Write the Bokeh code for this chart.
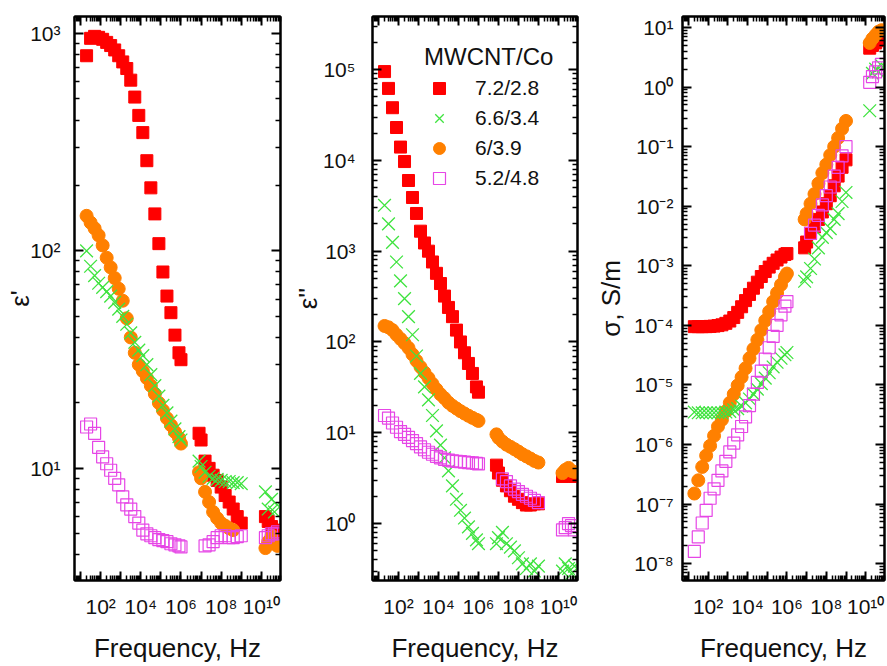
from bokeh.plotting import figure
from bokeh.layouts import row
from bokeh.models import FixedTicker, CustomJSTickFormatter, LogAxis, Legend, LegendItem
from bokeh.embed import file_html
from bokeh.resources import INLINE

nan = float("nan")

# ---------------- data ----------------
freq_low = [20, 31.6, 50.1, 79.4, 126, 200, 316, 501, 794, 1260, 2000, 3160, 5010, 7940,
            12600, 20000, 31600, 50100, 79400, 1.26e5, 2e5, 3.16e5, 5.01e5, 7.94e5, 1e6]
freq_mid = [7.94e6, 1e7, 1.58e7, 2.51e7, 3.98e7, 6.31e7, 1e8, 1.58e8, 2.51e8, 3.98e8, 6.31e8, 1e9]
freq_high = [1.6e10, 2.2e10, 3.2e10, 4.5e10, 6.3e10]
freq = freq_low + freq_mid + freq_high

legend_title = "MWCNT/Co"
series_labels = ["7.2/2.8", "6.6/3.4", "6/3.9", "5.2/4.8"]

# panel 1: eps'
eps_re_72 = [790, 950, 970, 960, 940, 910, 880, 840, 790, 740, 690, 610, 510, 420, 350, 260, 195, 148, 108, 80, 62, 52, 41, 34, 31.6,
             14.5, 13.5, 10.8, 10.0, 9.3, 8.8, 8.2, 7.5, 7.0, 6.5, 6.0, 5.6,
             6.0, 5.7, 5.4, 5.2, 5.0]
eps_re_66 = [100, 85, 77, 71, 68, 65, 62, 58, 54, 50, 46, 42, 38, 35, 33, 30, 27, 24, 21.5, 19.5, 18, 16.5, 15.2, 14, 13.5,
             10.8, 10.2, 9.6, 9.2, 9.0, 8.9, 8.8, 8.7, 8.7, 8.6, 8.6, 8.5,
             7.8, 6.5, 7.2, 6.3, 6.8]
eps_re_60 = [145, 135, 127, 118, 106, 93, 84, 75, 67, 59, 49, 40, 34, 30, 28, 26, 24, 22, 20, 18.5, 17, 15.8, 14.7, 13.8, 13,
             9.6, 9.0, 7.8, 7.0, 6.3, 5.9, 5.6, 5.45, 5.3, 5.2, nan, nan,
             4.3, 4.6, 4.9, 4.5, 4.4]
eps_re_52 = [15.5, 16, 14.5, 12.5, 11.3, 10.5, 9.8, 9.0, 8.4, 7.4, 6.8, 6.5, 6.0, 5.6, 5.2, 5.0, 4.9, 4.8, 4.7, 4.65, 4.6, 4.5, 4.45, 4.4, 4.35,
             nan, nan, 4.4, 4.45, 4.6, 4.8, 4.9, 4.9, 4.8, 4.8, 4.85, 4.9,
             4.8, 4.9, 5.0, 5.0, 5.1]

# panel 2: eps''
eps_im_72 = [9.5e4, 6.2e4, 3.8e4, 2.3e4, 1.4e4, 9.7e3, 6.0e3, 3.9e3, 2.6e3, 1.66e3, 1.23e3, 1.0e3, 760, 570, 440, 320, 240, 190, 135, 100, 76, 58, 45, 32, 28,
             4.4, 3.6, 3.0, 2.6, 2.3, 2.0, 1.85, 1.7, 1.6, 1.6, 1.65, 1.65,
             3.3, 3.5, 3.6, 3.4, 3.3]
eps_im_66 = [3.2e3, 2.0e3, 1.25e3, 760, 470, 300, 190, 120, 70, 45, 32, 23, 15.5, 10.5, 7.3, 5.3, 3.8, 2.6, 1.85, 1.4, 1.15, 0.92, 0.78, 0.66, 0.6,
             0.6, 0.7, 0.8, 0.6, 0.55, 0.5, 0.42, 0.36, 0.32, 0.36, 0.3, 0.34,
             0.3, 0.36, 0.32, 0.28, 0.34]
eps_im_60 = [150, 145, 135, 120, 108, 97, 86, 73, 62, 53, 46, 40, 34.5, 30, 26.5, 24, 21.5, 19.8, 18.5, 17.3, 16.3, 15.4, 14.6, 13.9, 13.5,
             9.6, 8.8, 8.0, 7.4, 7.0, 6.6, 6.2, 5.8, 5.5, 5.2, 4.9, 4.7,
             3.6, 3.9, 4.1, 3.8, 3.7]
eps_im_52 = [15.5, 14.5, 12.8, 11.5, 10.3, 9.6, 8.9, 8.2, 7.6, 7.0, 6.5, 6.1, 5.8, 5.5, 5.3, 5.1, 5.0, 4.9, 4.85, 4.8, 4.75, 4.7, 4.65, 4.6, 4.55,
             nan, nan, 3.1, 2.9, 2.6, 2.4, 2.25, 2.1, 2.0, 1.9, 1.8, 1.7,
             0.85, 0.9, 1.0, 0.95, 0.85]

# panel 3: sigma, S/m
sigma_72 = [9.5e-5, 9.5e-5, 9.5e-5, 9.5e-5, 9.6e-5, 9.7e-5, 9.9e-5, 1.02e-4, 1.08e-4, 1.18e-4, 1.35e-4, 1.65e-4, 2.05e-4, 2.6e-4, 3.3e-4,
            4.2e-4, 5.3e-4, 6.6e-4, 8.0e-4, 9.5e-4, 1.1e-3, 1.25e-3, 1.4e-3, 1.55e-3, 1.6e-3,
            2.0e-3, 2.5e-3, 3.5e-3, 4.5e-3, 6e-3, 8e-3, 1.1e-2, 1.5e-2, 2.2e-2, 3.2e-2, 4.5e-2, 6e-2,
            4.5, 5.0, 5.5, 6.0, 6.5]
sigma_66 = [3.5e-6, 3.4e-6, 3.4e-6, 3.4e-6, 3.4e-6, 3.4e-6, 3.4e-6, 3.4e-6, 3.5e-6, 3.6e-6, 3.8e-6, 4.0e-6, 4.4e-6, 5.0e-6, 5.8e-6,
            7.0e-6, 8.5e-6, 1.05e-5, 1.3e-5, 1.6e-5, 2.0e-5, 2.4e-5, 2.8e-5, 3.2e-5, 3.5e-5,
            5.5e-4, 6.5e-4, 9e-4, 1.3e-3, 2e-3, 3e-3, 3.6e-3, 4.2e-3, 6e-3, 7.5e-3, 1.2e-2, 1.7e-2,
            0.4, 1.7, 2.0, 1.8, 2.3]
sigma_60 = [1.5e-7, 2.5e-7, 4.2e-7, 6.5e-7, 9.5e-7, 1.4e-6, 2.0e-6, 2.6e-6, 3.6e-6, 5.0e-6, 7.0e-6, 9.8e-6, 1.35e-5, 1.9e-5, 2.8e-5,
            4.0e-5, 5.7e-5, 8.3e-5, 1.2e-4, 1.7e-4, 2.5e-4, 3.5e-4, 4.8e-4, 6.5e-4, 7.4e-4,
            6e-3, 7.5e-3, 1.1e-2, 1.6e-2, 2.4e-2, 3.6e-2, 5e-2, 7.2e-2, 0.1, 0.14, 0.2, 0.27,
            5.5, 6.5, 7.5, 8.5, 9.0]
sigma_52 = [1.6e-8, 2.8e-8, 4.8e-8, 7.8e-8, 1.25e-7, 1.8e-7, 2.5e-7, 3.6e-7, 5.2e-7, 7.5e-7, 1.05e-6, 1.45e-6, 2.0e-6, 2.9e-6, 4.5e-6,
            7.0e-6, 1.1e-5, 1.7e-5, 2.7e-5, 4.2e-5, 6.5e-5, 1.0e-4, 1.5e-4, 2.1e-4, 2.5e-4,
            nan, nan, 3.5e-3, 4.8e-3, 7e-3, 1.05e-2, 1.5e-2, 2.1e-2, 3.2e-2, 4.5e-2, 7e-2, 0.1,
            1.2, 1.5, 1.8, 2.1, 2.4]

# ---------------- styling ----------------
FONT = "Liberation Sans"
C_RED = "#ff0000"
C_GREEN = "#3fe33f"
C_ORANGE = "#ff8000"
C_MAG = "#e646e6"

SUP_JS = """
const m = {"0":"\u2070","1":"\u00b9","2":"\u00b2","3":"\u00b3","4":"\u2074","5":"\u2075",
           "6":"\u2076","7":"\u2077","8":"\u2078","9":"\u2079","-":"\u207b"};
const e = Math.round(Math.log10(tick));
if (skip > 0 && Math.abs(e) % 2 === 1) { return ""; }
return "10" + String(e).split("").map(c => m[c]).join("");
"""

TOP_BORDER = 16
BOTTOM_BORDER = 86


def decade_ticker(lo, hi):
    majors = [10.0 ** k for k in range(lo, hi + 1)]
    minors = [m * 10.0 ** k for k in range(lo - 1, hi + 1) for m in range(2, 10)]
    return FixedTicker(ticks=majors, minor_ticks=minors)


def style_axis(ax, labelled):
    ax.axis_line_width = 2
    ax.axis_line_color = "black"
    ax.major_tick_in = 9
    ax.major_tick_out = 0
    ax.minor_tick_in = 5
    ax.minor_tick_out = 0
    ax.major_tick_line_width = 2
    ax.minor_tick_line_width = 1.5
    ax.major_label_text_font = FONT
    ax.major_label_text_font_size = "21px"
    ax.major_label_text_color = "#111111"
    if not labelled:
        ax.major_label_text_font_size = "0px"
        ax.major_label_standoff = 0
        ax.axis_label_standoff = 0


def make_panel(width, ylo, yhi, y_decades, ylabel, left, right, tick_so, lab_so, ys):
    p = figure(width=width, height=666, x_axis_type="log", y_axis_type="log",
               x_range=(5, 9e10), y_range=(ylo, yhi), title=None,
               output_backend="svg", toolbar_location=None,
               min_border_left=left, min_border_right=right,
               min_border_top=TOP_BORDER, min_border_bottom=BOTTOM_BORDER)
    p.grid.visible = False
    p.outline_line_color = "black"
    p.outline_line_width = 2
    p.background_fill_color = "white"
    p.border_fill_color = "white"

    xt = decade_ticker(0, 11)
    yt = decade_ticker(*y_decades)
    xfmt = CustomJSTickFormatter(args=dict(skip=1), code=SUP_JS)
    yfmt = CustomJSTickFormatter(args=dict(skip=0), code=SUP_JS)
    blank = CustomJSTickFormatter(code="return '';")

    xa = p.xaxis[0]
    xa.ticker = xt
    xa.formatter = xfmt
    style_axis(xa, True)
    xa.major_label_standoff = 14
    xa.axis_label = "Frequency, Hz"
    xa.axis_label_standoff = 12
    xa.axis_label_text_font = FONT
    xa.axis_label_text_font_size = "26px"
    xa.axis_label_text_font_style = "normal"
    xa.axis_label_text_color = "#111111"

    ya = p.yaxis[0]
    ya.ticker = yt
    ya.formatter = yfmt
    style_axis(ya, True)
    ya.major_label_standoff = tick_so
    ya.axis_label = ylabel
    ya.axis_label_standoff = lab_so
    ya.axis_label_text_font = FONT
    ya.axis_label_text_font_size = "26px"
    ya.axis_label_text_font_style = "normal"
    ya.axis_label_text_color = "#111111"

    top_ax = LogAxis(ticker=xt, formatter=blank)
    style_axis(top_ax, False)
    p.add_layout(top_ax, "above")
    right_ax = LogAxis(ticker=yt, formatter=blank)
    style_axis(right_ax, False)
    p.add_layout(right_ax, "right")

    y72, y66, y60, y52 = ys
    r72 = p.scatter(freq, y72, marker="square", size=12, fill_color=C_RED, line_color=C_RED)
    r60 = p.scatter(freq, y60, marker="circle", size=13, fill_color=C_ORANGE, line_color=C_ORANGE)
    r66 = p.scatter(freq, y66, marker="x", size=18, line_color=C_GREEN, line_width=1.3)
    r52 = p.scatter(freq, y52, marker="square", size=12, fill_color="white", fill_alpha=0.0,
                    line_color=C_MAG, line_width=1.2)
    return p, (r72, r66, r60, r52)


p1, _ = make_panel(290, 3.05, 1197, (1, 3), "\u03b5'", 74, 10, 14, -8,
                   (eps_re_72, eps_re_66, eps_re_60, eps_re_52))
p2, rs = make_panel(295, 0.236, 3.84e5, (0, 5), "\u03b5''", 82, 8, 17, -3,
                    (eps_im_72, eps_im_66, eps_im_60, eps_im_52))
p3, _ = make_panel(302, 5.2e-9, 15.3, (-8, 1), "\u03c3, S/m", 97, 3, 9, 5,
                   (sigma_72, sigma_66, sigma_60, sigma_52))

items = [LegendItem(label=lab, renderers=[r]) for lab, r in zip(series_labels, rs)]
legend = Legend(items=items, title=legend_title, location=(52, 387),
                title_text_font=FONT, title_text_font_size="24px", title_text_font_style="normal",
                title_text_color="#111111", title_standoff=2,
                label_text_font=FONT, label_text_font_size="21px", label_text_color="#111111",
                label_height=30, glyph_height=30, glyph_width=30, label_standoff=21,
                spacing=0, padding=0, margin=0,
                border_line_alpha=0, background_fill_alpha=0)
p2.add_layout(legend)

layout = row(p1, p2, p3)
open("out.html", "w").write(file_html(layout, INLINE))
